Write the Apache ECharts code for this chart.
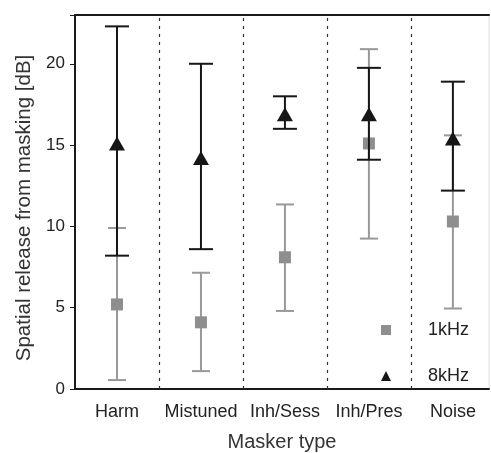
<!DOCTYPE html>
<html>
<head>
<meta charset="utf-8">
<script src="https://cdn.jsdelivr.net/npm/echarts@6/dist/echarts.min.js"></script>
<style>html,body{margin:0;padding:0;background:#fff}#c{width:491px;height:453px}</style>
</head>
<body>
<div id="c"></div>
<script>
const categories = ['Harm', 'Mistuned', 'Inh/Sess', 'Inh/Pres', 'Noise'];
const mean1k = [5.2, 4.1, 8.1, 15.1, 10.3];
const low1k  = [0.55, 1.1, 4.8, 9.25, 4.95];
const high1k = [9.9, 7.15, 11.35, 20.9, 15.6];
const mean8k = [15.1, 14.2, 16.9, 16.9, 15.4];
const low8k  = [8.2, 8.6, 16.0, 14.1, 12.2];
const high8k = [22.3, 20.0, 18.0, 19.75, 18.9];
const yTicks = [0, 5, 10, 15, 20];
const dividers = [1.5, 2.5, 3.5, 4.5];

const pos = categories.map((c, i) => i + 1);
const gray = '#8e8e8e';
const black = '#161616';
const font = 'Liberation Sans, Arial, sans-serif';

function errSeries(name, lows, highs, color, capHalf, z) {
  return {
    name: name, type: 'custom', z: z, silent: true,
    data: pos.map((x, i) => [x, lows[i], highs[i]]),
    renderItem: function (params, api) {
      const p1 = api.coord([api.value(0), api.value(1)]);
      const p2 = api.coord([api.value(0), api.value(2)]);
      const st = { stroke: color, lineWidth: 2 };
      return { type: 'group', children: [
        { type: 'line', shape: { x1: p1[0], y1: p1[1], x2: p2[0], y2: p2[1] }, style: st },
        { type: 'line', shape: { x1: p1[0] - capHalf, y1: p1[1], x2: p1[0] + capHalf, y2: p1[1] }, style: st },
        { type: 'line', shape: { x1: p2[0] - capHalf, y1: p2[1], x2: p2[0] + capHalf, y2: p2[1] }, style: st }
      ]};
    }
  };
}

const chart = echarts.init(document.getElementById('c'));
chart.setOption({
  animation: false,
  backgroundColor: '#fff',
  grid: { left: 75, right: 2, top: 15, bottom: 64, outerBoundsMode: 'none', containLabel: false,
    show: true, borderColor: '#e0e0e0', borderWidth: 1 },
  xAxis: [{
    type: 'value', min: 0.5, max: 5.43,
    name: 'Masker type', nameLocation: 'middle', nameGap: 43,
    nameTextStyle: { fontFamily: font, fontSize: 20, color: '#333' },
    axisLine: { show: true, onZero: false, lineStyle: { color: '#1a1a1a', width: 2 } },
    axisTick: { show: false },
    splitLine: { show: false },
    axisLabel: { customValues: pos, formatter: v => categories[Math.round(v) - 1] || '',
      fontFamily: font, fontSize: 18, color: '#222', margin: 14 }
  }, {
    type: 'value', min: 0.5, max: 5.43, position: 'top',
    axisLine: { show: true, onZero: false, lineStyle: { color: '#1a1a1a', width: 2 } },
    axisTick: { show: false }, axisLabel: { show: false }, splitLine: { show: false }
  }],
  yAxis: {
    type: 'value', min: 0, max: 23, interval: 5,
    name: 'Spatial release from masking [dB]', nameLocation: 'middle', nameGap: 38,
    nameTextStyle: { fontFamily: font, fontSize: 20.5, color: '#333', padding: [0, 12, 0, 0] },
    axisLine: { show: true, lineStyle: { color: '#1a1a1a', width: 2 } },
    axisTick: { show: true, length: 5, lineStyle: { color: '#1a1a1a', width: 1 } },
    splitLine: { show: false },
    axisLabel: { customValues: yTicks, fontFamily: font, fontSize: 17, color: '#222', margin: 10 }
  },
  legend: {
    orient: 'vertical', left: 376, top: 316, itemGap: 28,
    data: [
      { name: '1kHz', icon: 'rect', itemStyle: { color: gray } },
      { name: '8kHz', icon: 'triangle', itemStyle: { color: black } }
    ],
    itemWidth: 10, itemHeight: 10,
    textStyle: { fontFamily: font, fontSize: 18, color: '#222', padding: [0, 0, 0, 32] }
  },
  series: [
    errSeries('err1k', low1k, high1k, '#999999', 9, 2),
    {
      name: '1kHz', type: 'scatter', z: 3, symbol: 'rect', symbolSize: 12,
      itemStyle: { color: gray, opacity: 1 },
      data: pos.map((x, i) => [x, mean1k[i]]),
      markLine: {
        silent: true, symbol: 'none', label: { show: false },
        lineStyle: { color: '#333', type: [3, 5], width: 1.2 },
        data: dividers.map(d => ({ xAxis: d }))
      }
    },
    errSeries('err8k', low8k, high8k, black, 12, 4),
    {
      name: '8kHz', type: 'scatter', z: 5, symbol: 'triangle', symbolSize: [16, 14],
      itemStyle: { color: black, opacity: 1 },
      data: pos.map((x, i) => [x, mean8k[i]])
    }
  ]
});
</script>
</body>
</html>
